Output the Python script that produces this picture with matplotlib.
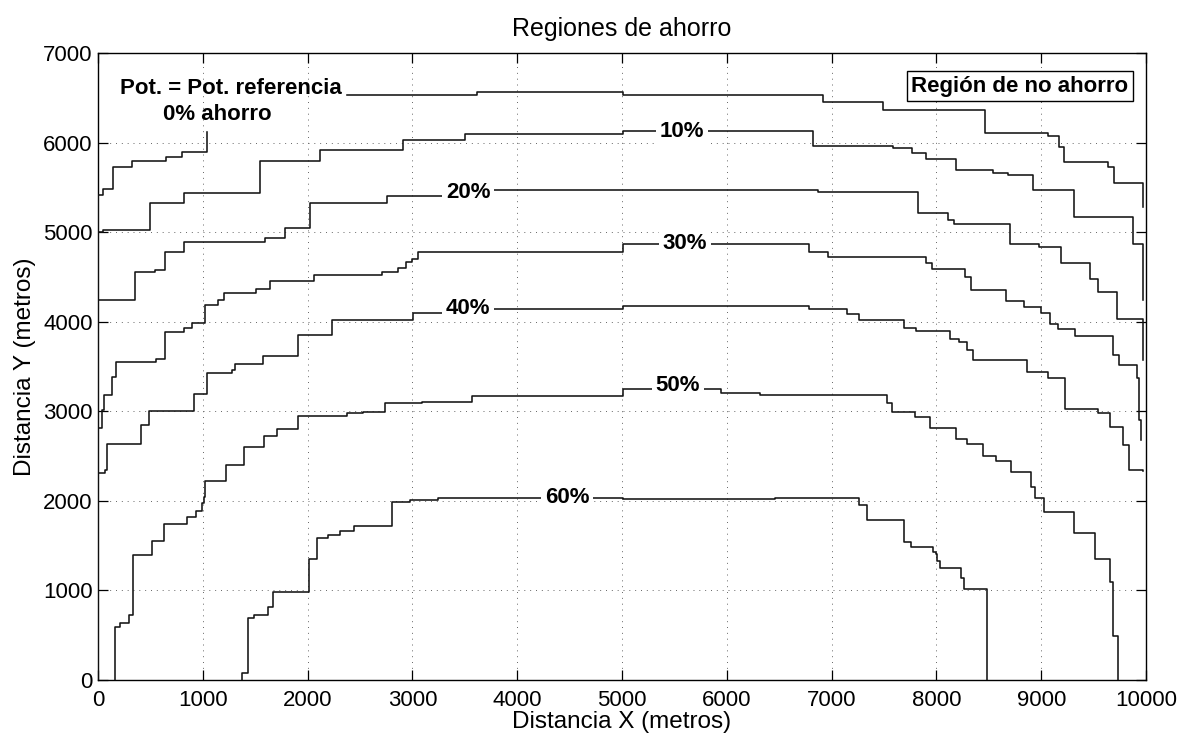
import numpy as np
import matplotlib
matplotlib.use('Agg')
import matplotlib.pyplot as plt

plt.rcParams['font.family'] = ['Liberation Sans', 'DejaVu Sans']

# Savings contours, distances in metres.
# Each (x, y) pair is the start of a stair step (drawn with steps-post).
ahorro_0_a = [(0, 0), (0, 5415), (50, 5480), (140, 5730), (320, 5790), (650, 5840),
              (800, 5890), (1040, 6120)]
ahorro_0_b = [(2380, 6530), (3620, 6570), (5010, 6530), (6920, 6450), (7490, 6360),
              (8460, 6110), (9060, 6070), (9170, 5950), (9220, 5780), (9640, 5730),
              (9690, 5550), (9970, 5280)]
ahorro_10 = [(0, 5000), (50, 5020), (500, 5320), (820, 5435), (1550, 5790), (2120, 5920),
             (2910, 6030), (3500, 6095), (5010, 6125), (6820, 5960), (7590, 5935),
             (7770, 5885), (7900, 5820), (8190, 5690), (8540, 5660), (8680, 5640),
             (8920, 5465), (9310, 5170), (9880, 4870), (9970, 4240)]
ahorro_20 = [(0, 4245), (356, 4550), (547, 4580), (642, 4783), (821, 4893), (1594, 4935),
             (1784, 5043), (2023, 5329), (2755, 5403), (3502, 5475), (6873, 5451),
             (7827, 5215), (8114, 5140), (8168, 5091), (8702, 4872), (8982, 4837),
             (9186, 4659), (9466, 4480), (9545, 4335), (9720, 4025), (9970, 3572)]
ahorro_30 = [(0, 2810), (40, 3010), (60, 3182), (134, 3380), (168, 3550), (550, 3585),
             (639, 3880), (816, 3930), (897, 3980), (1020, 4190), (1145, 4237),
             (1198, 4325), (1510, 4362), (1641, 4460), (2058, 4521), (2712, 4560),
             (2858, 4600), (2942, 4670), (2993, 4700), (3056, 4780), (5010, 4870),
             (6782, 4780), (6969, 4726), (7900, 4652), (7955, 4588), (8273, 4500),
             (8327, 4350), (8664, 4232), (8836, 4165), (8995, 4098), (9084, 3978),
             (9163, 3922), (9323, 3840), (9688, 3632), (9745, 3513), (9917, 3368),
             (9936, 2903), (9952, 2679)]
ahorro_40 = [(0, 2310), (70, 2344), (86, 2635), (413, 2850), (490, 2999), (913, 3197),
             (1040, 3424), (1279, 3460), (1310, 3528), (1574, 3612), (1708, 3622),
             (1911, 3852), (2230, 4019), (3009, 4101), (3531, 4138), (5010, 4172),
             (6782, 4138), (7150, 4090), (7263, 4023), (7692, 3935), (7805, 3900),
             (8130, 3810), (8219, 3771), (8289, 3688), (8352, 3572), (8864, 3440),
             (9063, 3368), (9224, 3027), (9545, 2980), (9654, 2821), (9781, 2628),
             (9838, 2340), (9974, 2337)]
ahorro_50 = [(162, 0), (162, 595), (214, 636), (292, 720), (334, 1400), (512, 1550),
             (630, 1745), (845, 1816), (936, 1890), (990, 1973), (1009, 2046),
             (1024, 2220), (1218, 2400), (1395, 2598), (1584, 2724), (1705, 2802),
             (1911, 2951), (2373, 2977), (2532, 2995), (2739, 3089), (3089, 3107),
             (3566, 3167), (5007, 3249), (5946, 3204), (6317, 3180), (7529, 3089),
             (7574, 2995), (7800, 2936), (7939, 2817), (8183, 2694), (8292, 2633),
             (8448, 2497), (8573, 2441), (8714, 2325), (8900, 2150), (8936, 2032),
             (9024, 1872), (9310, 1638), (9510, 1350), (9660, 1090), (9685, 487),
             (9733, 0)]
ahorro_60 = [(1371, 0), (1376, 78), (1430, 690), (1489, 730), (1625, 812), (1673, 986),
             (2010, 1351), (2090, 1582), (2198, 1622), (2309, 1660), (2440, 1720),
             (2805, 1990), (2977, 2008), (3247, 2035), (5010, 2021), (6460, 2028),
             (7260, 1950), (7338, 1790), (7692, 1540), (7760, 1481), (7965, 1432),
             (7996, 1407), (8003, 1326), (8037, 1247), (8237, 1144), (8260, 1013),
             (8483, 0)]

# inline contour labels
label_text = ['10%', '20%', '30%', '40%', '50%', '60%']
label_x = [5573, 3531, 5601, 3531, 5534, 4475]
label_y = [6129, 5440, 4868, 4150, 3290, 2035]

contours = [ahorro_0_a, ahorro_0_b, ahorro_10, ahorro_20, ahorro_30,
            ahorro_40, ahorro_50, ahorro_60]

fig = plt.figure(figsize=(11.8, 7.36), dpi=100)
ax = fig.add_axes([0.0831, 0.0761, 0.8881, 0.8519])

for pts in contours:
    xs, ys = np.array(pts, dtype=float).T
    ax.plot(xs, ys, drawstyle='steps-post', color='0.08', lw=1.15, zorder=3)

for s, x, y in zip(label_text, label_x, label_y):
    ax.text(x, y, s, ha='center', va='center', fontsize=16, fontweight='bold',
            bbox=dict(facecolor='white', edgecolor='none', pad=2.5), zorder=4)

ax.text(1269, 6598, 'Pot. = Pot. referencia', ha='center', va='center',
        fontsize=16, fontweight='bold', zorder=4)
ax.text(1135, 6308, '0% ahorro', ha='center', va='center',
        fontsize=16, fontweight='bold', zorder=4)
ax.text(8798, 6631, 'Región de no ahorro', ha='center', va='center',
        fontsize=16, fontweight='bold', zorder=5,
        bbox=dict(facecolor='white', edgecolor='black', linewidth=1.0, pad=3))

ax.set_xlim(0, 10000)
ax.set_ylim(0, 7000)
ax.set_xticks(np.arange(0, 10001, 1000))
ax.set_yticks(np.arange(0, 7001, 1000))
ax.grid(True, linestyle=(0, (1, 5)), color='0.4', linewidth=0.7)
ax.tick_params(direction='in', length=7, width=0.9, top=True, right=True,
               labelsize=16)
ax.tick_params(axis='x', pad=7)
ax.tick_params(axis='y', pad=4)
for sp in ax.spines.values():
    sp.set_linewidth(1.0)

ax.set_title('Regiones de ahorro', fontsize=18, pad=12)
ax.set_xlabel('Distancia X (metros)', fontsize=17.5, labelpad=0)
ax.set_ylabel('Distancia Y (metros)', fontsize=17.5, labelpad=5)

fig.savefig('out.png', dpi=100)
